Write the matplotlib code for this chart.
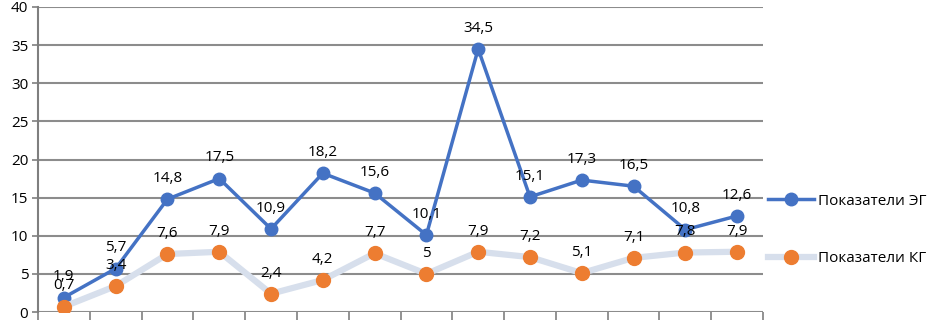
import matplotlib
matplotlib.use("Agg")
import matplotlib.pyplot as plt
import numpy as np

plt.rcParams['font.family'] = ['Open Sans', 'DejaVu Sans']

eg = [1.9, 5.7, 14.8, 17.5, 10.9, 18.2, 15.6, 10.1, 34.5, 15.1, 17.3, 16.5, 10.8, 12.6]
kg = [0.7, 3.4, 7.6, 7.9, 2.4, 4.2, 7.7, 5, 7.9, 7.2, 5.1, 7.1, 7.8, 7.9]
names = ["Показатели ЭГ", "Показатели КГ"]
yticks = [0, 5, 10, 15, 20, 25, 30, 35, 40]

x = np.arange(len(eg))

fig = plt.figure(figsize=(9.32, 3.2), dpi=100)
ax = fig.add_axes([38/932, 8/320, (763-38)/932, (312-7)/320])

ax.plot(x, eg, color='#4472C4', linewidth=2.5, marker='o', markersize=9,
        markerfacecolor='#4472C4', markeredgecolor='#4472C4', label=names[0], zorder=3)
ax.plot(x, kg, color='#D7DFEC', linewidth=4.5, marker='o', markersize=10,
        markerfacecolor='#ED7D31', markeredgecolor='#ED7D31', label=names[1], zorder=4)

# подписи значений
for xi, v in zip(x, eg):
    ax.annotate(str(v).replace('.', ','), (xi, v), xytext=(0, 9.5), textcoords='offset points',
                ha='center', va='bottom', fontsize=11, zorder=5)
for xi, v in zip(x, kg):
    ax.annotate(str(v).replace('.', ','), (xi, v), xytext=(0, 9.5), textcoords='offset points',
                ha='center', va='bottom', fontsize=11, zorder=5)

ax.set_xlim(-0.5, len(eg) - 0.5)
ax.set_ylim(0, 40)
ax.set_yticks(yticks)
ax.set_xticks(np.arange(len(eg) + 1) - 0.5)
ax.set_xticklabels([])
ax.tick_params(axis='x', direction='out', length=6, width=1.2, color='#7f7f7f')
ax.tick_params(axis='y', direction='out', length=4, width=1.2, color='#7f7f7f',
               labelsize=11, pad=3)
ax.yaxis.grid(True, color='#8c8c8c', linewidth=1.5)
ax.set_axisbelow(True)
for s in ['top', 'right', 'bottom']:
    ax.spines[s].set_visible(False)
ax.spines['left'].set_color('#7f7f7f')
ax.spines['left'].set_linewidth(1.5)

fig.legend(loc='center left', bbox_to_anchor=(768/932, 1 - 230/320), frameon=False,
           fontsize=11, labelspacing=2.8, handlelength=3.0, handletextpad=0.3,
           borderpad=0, borderaxespad=0)

fig.savefig("out.png", dpi=100)
